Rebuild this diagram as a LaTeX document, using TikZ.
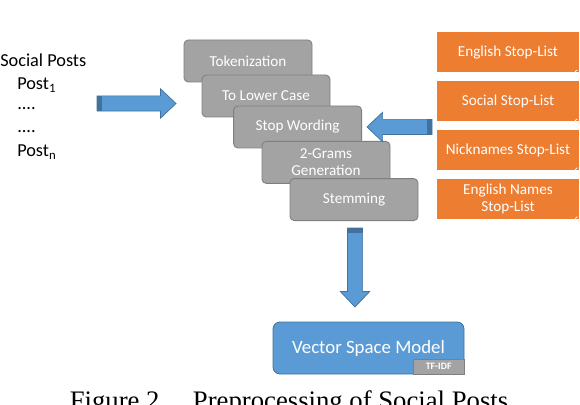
\documentclass[tikz,border=0pt]{standalone}
\usepackage{fontspec}
\setmainfont{Carlito}
\newfontfamily\captionfont{Liberation Serif}
\usetikzlibrary{positioning}
\newcommand{\blockarrow}[3]{% tail, angle, length
  \begin{scope}[shift={(#1)}, rotate=#2]
    \draw[blockarrow] (0,-0.19) -- ({#3-0.39},-0.19) -- ({#3-0.39},-0.37) -- (#3,0)
      -- ({#3-0.39},0.37) -- ({#3-0.39},0.19) -- (0,0.19) -- cycle;
    \fill[arrowedge] (0,-0.19) rectangle (0.13,0.19);
  \end{scope}}

\begin{document}
\begin{tikzpicture}
  \definecolor{stepcol}{HTML}{A3A3A3}
  \definecolor{stepedge}{HTML}{7F7F7F}
  \definecolor{listcol}{HTML}{ED7D31}
  \definecolor{arrowcol}{HTML}{5B9BD5}
  \definecolor{arrowedge}{HTML}{41719C}
  \tikzstyle{stepbox}=[draw=stepedge, fill=stepcol, rounded corners=3pt, line width=0.6pt,
    minimum width=3.2cm, minimum height=1.05cm, text=white, align=center,
    font=\fontsize{10.8}{12}\selectfont]
  \tikzstyle{listbox}=[fill=listcol, minimum width=3.55cm, minimum height=1cm, text=white,
    align=center, font=\fontsize{10.8}{12}\selectfont]
  \tikzstyle{blockarrow}=[fill=arrowcol, draw=arrowedge, line width=0.5pt]
  \tikzstyle{postline}=[anchor=base west, inner sep=0, font=\fontsize{13}{15}\selectfont]

  \useasboundingbox (0,0) rectangle (14.5,10.1);
  \clip (0,0) rectangle (14.5,10.1);

  % Input posts
  \node[postline] (posts) at (0,8.425) {Social Posts};
  \node[postline] (post1) at (0.425,7.85) {Post\textsubscript{1}};
  \node[postline] (dots1) at (0.425,7.35) {....};
  \node[postline] (dots2) at (0.425,6.775) {....};
  \node[postline] (postn) at (0.425,6.175) {Post\textsubscript{n}};

  % Preprocessing steps
  \node[stepbox] (tok) at (6.2,8.575) {Tokenization};
  \node[stepbox] (lower) at (6.65,7.7) {To Lower Case};
  \node[stepbox] (stopw) at (7.44,6.925) {Stop Wording};
  \node[stepbox] (grams) at (8.15,6.04) {2-Grams\\Generation};
  \node[stepbox] (stem) at (8.85,5.11) {Stemming};

  % Stop lists
  \node[listbox] (eng) at (12.7,8.79) {English Stop-List};
  \node[listbox, below=0.21cm of eng] (social) {Social Stop-List};
  \node[listbox, below=0.21cm of social] (nick) {Nicknames Stop-List};
  \node[listbox, below=0.21cm of nick] (names) {English Names\\Stop-List};
  \foreach \n in {eng,social,nick,names}{
      \draw[white, line width=0.5pt] ([shift={(-3pt,0.6pt)}]\n.south east)
        arc (180:90:1.2pt) -- ++(0.6pt,0);
    }

  % Output model
  \node[draw=arrowedge, fill=arrowcol, rounded corners=5pt, line width=0.6pt,
    minimum width=4.775cm, minimum height=1.3cm, text=white,
    font=\fontsize{13.4}{15}\selectfont] (vsm) at (9.2125,1.4) {Vector Space Model};
  \node[draw=stepedge, fill=stepcol, anchor=south east, minimum width=1.275cm,
    minimum height=0.375cm, inner sep=0, text=white,
    font=\bfseries\fontsize{7}{8}\selectfont] (tfidf) at (vsm.south east) {TF-IDF};

  % Block arrows
  \coordinate (intail) at (2.425,7.5125);
  \coordinate (listtail) at (10.8,6.925);
  \coordinate (outtail) at (8.875,4.4);
  \blockarrow{intail}{0}{1.975}
  \blockarrow{listtail}{180}{1.625}
  \blockarrow{outtail}{-90}{1.975}

  % Caption
  \node[font=\captionfont\fontsize{19}{22}\selectfont, anchor=base, inner sep=0]
    (caption) at (7.225,-0.14) {Figure 2.\quad Preprocessing of Social Posts};
\end{tikzpicture}
\end{document}
